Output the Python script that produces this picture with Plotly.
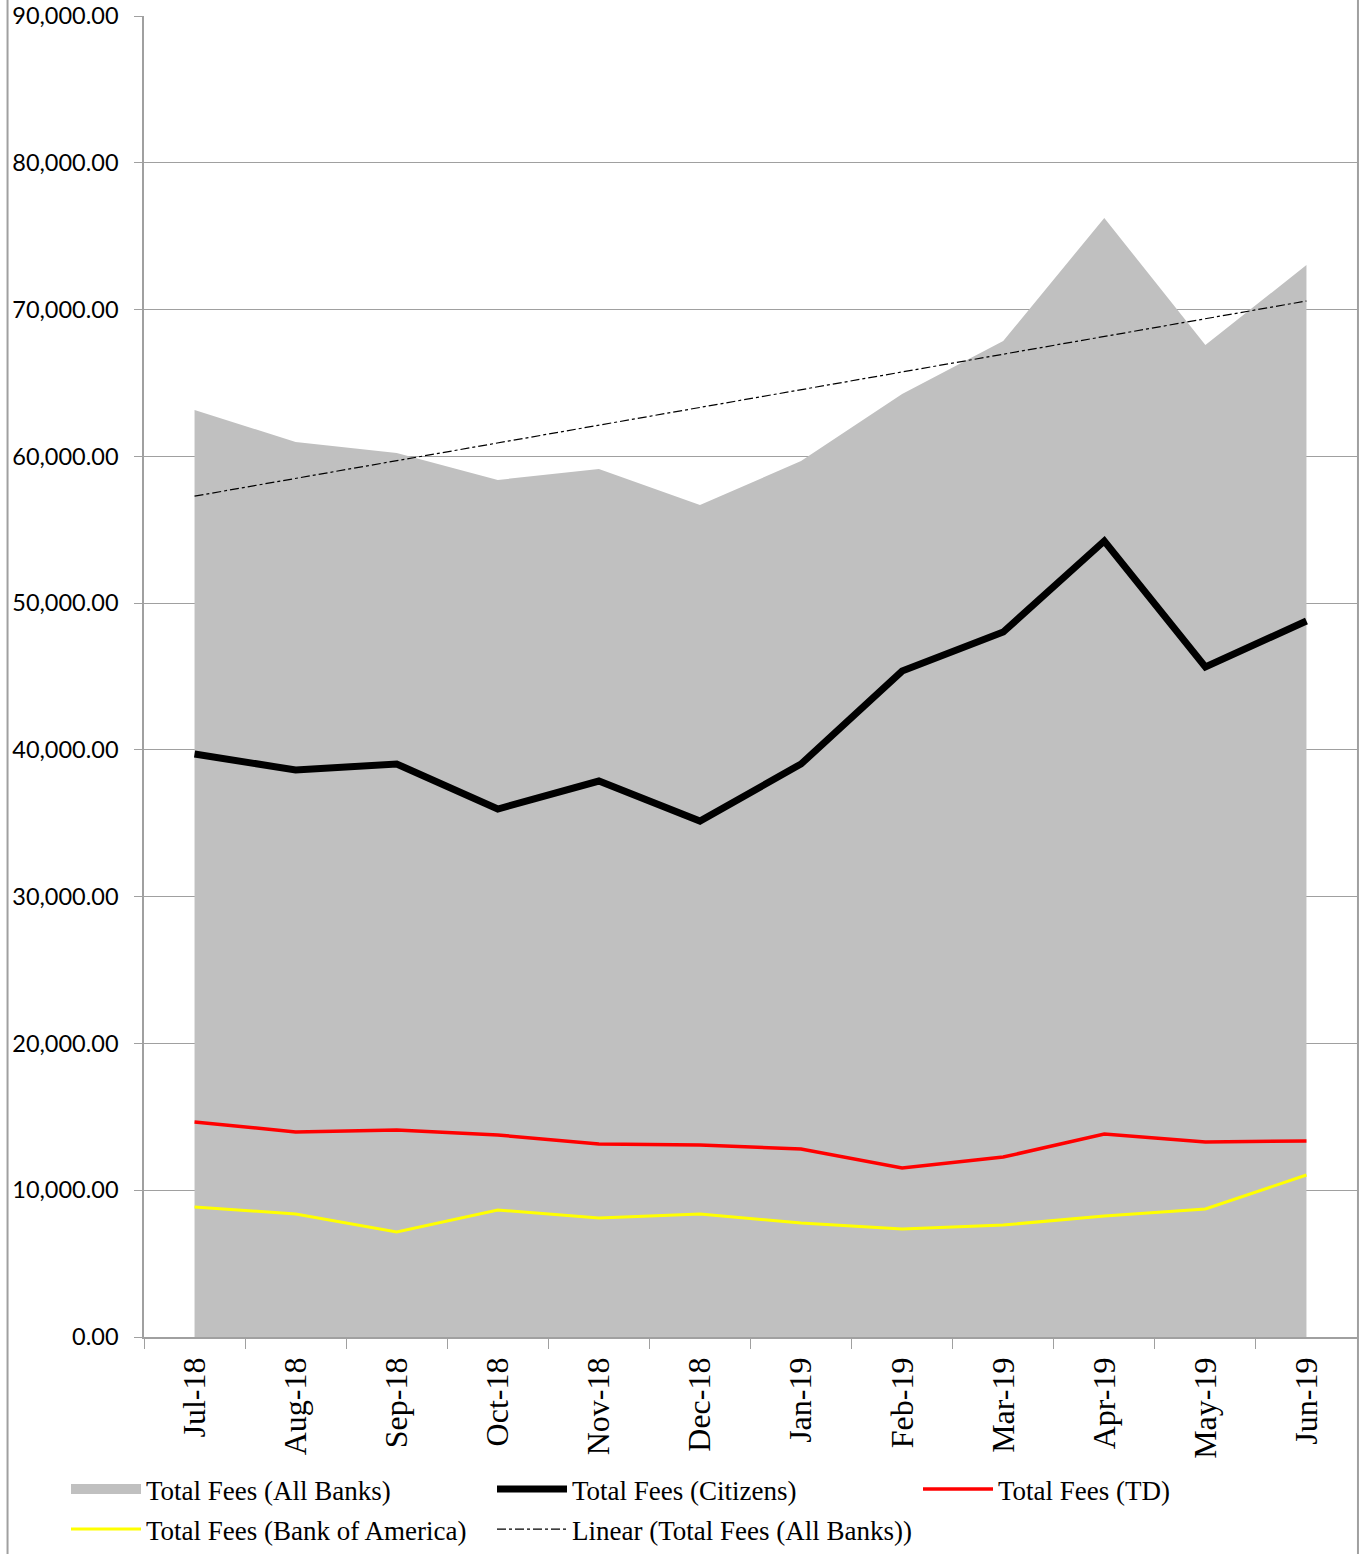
import numpy as np
import plotly.graph_objects as go

months = ["Jul-18", "Aug-18", "Sep-18", "Oct-18", "Nov-18", "Dec-18",
          "Jan-19", "Feb-19", "Mar-19", "Apr-19", "May-19", "Jun-19"]
all_banks = [63160, 60980, 60230, 58390, 59140, 56680, 59680, 64250, 67860, 76240, 67580, 73030]
citizens = [39720, 38630, 39040, 35970, 37880, 35150, 39040, 45370, 48030, 54230, 45650, 48780]
td = [14650, 13970, 14100, 13760, 13150, 13080, 12810, 11510, 12260, 13830, 13290, 13350]
boa = [8860, 8380, 7150, 8650, 8110, 8380, 7770, 7360, 7630, 8240, 8720, 11040]
y_ticks = [0, 10000, 20000, 30000, 40000, 50000, 60000, 70000, 80000, 90000]

# linear trendline (least squares) of All Banks
xi = np.arange(len(all_banks))
slope, intercept = np.polyfit(xi, np.array(all_banks, dtype=float), 1)
trend = (slope * xi + intercept).tolist()

GRID = "#a0a0a0"
AREA = "#c0c0c0"
fig = go.Figure()
fig.add_trace(go.Scatter(x=months, y=all_banks, name="Total Fees (All Banks)",
                         mode="lines", fill="tozeroy", fillcolor=AREA,
                         line=dict(width=0, color=AREA), showlegend=False,
                         legendgroup="all"))
# legend entry for the area (filled block swatch)
fig.add_trace(go.Scatter(x=[None], y=[None], name="Total Fees (All Banks)",
                         mode="lines", line=dict(color=AREA, width=15),
                         legendgroup="all", legend="legend"))
fig.add_trace(go.Scatter(x=months, y=citizens, name="Total Fees (Citizens)",
                         mode="lines", line=dict(color="black", width=7),
                         legend="legend2"))
fig.add_trace(go.Scatter(x=months, y=td, name="Total Fees (TD)",
                         mode="lines", line=dict(color="#ff0000", width=3.5),
                         legend="legend3"))
fig.add_trace(go.Scatter(x=months, y=boa, name="Total Fees (Bank of America)",
                         mode="lines", line=dict(color="#ffff00", width=3),
                         legend="legend4"))
fig.add_trace(go.Scatter(x=months, y=trend, name="Linear (Total Fees (All Banks))",
                         mode="lines", line=dict(color="black", width=1.2, dash="dashdot"),
                         legend="legend5"))

LEGFONT = dict(family="Liberation Serif", size=27, color="black")


def leg(xpx, ytop):
    return dict(orientation="h", xref="container", yref="container",
                x=xpx / 1365, y=1 - ytop / 1554, xanchor="left", yanchor="top",
                font=LEGFONT, itemwidth=70, bgcolor="rgba(0,0,0,0)")


fig.update_layout(
    width=1365, height=1554,
    margin=dict(l=144, r=8, t=16, b=217, autoexpand=False),
    paper_bgcolor="white", plot_bgcolor="white",
    showlegend=True,
    legend=leg(66, 1465),
    legend2=leg(492, 1465),
    legend3=leg(918, 1465),
    legend4=leg(66, 1505),
    legend5=leg(492, 1505),
    xaxis=dict(type="category", range=[-0.5, 11.5], tickson="boundaries",
               ticks="outside", ticklen=10, tickcolor=GRID, showline=True,
               linecolor=GRID, linewidth=1.5, showgrid=False, tickangle=-90,
               ticklabelstandoff=6,
               tickfont=dict(family="Liberation Serif", size=32, color="black")),
    yaxis=dict(range=[0, 90000], tickvals=y_ticks,
               ticktext=[f"{v:,.2f}" for v in y_ticks],
               ticks="outside", ticklen=8, tickcolor=GRID, showline=True,
               linecolor=GRID, linewidth=1.5, showgrid=True, gridcolor=GRID,
               gridwidth=1.2, zeroline=False, ticklabelstandoff=11,
               tickfont=dict(family="Lato", size=23.5, color="black")),
    shapes=[
        dict(type="line", xref="paper", yref="paper", x0=-0.1125, x1=-0.1125,
             y0=-1, y1=2, line=dict(color=GRID, width=2)),
        dict(type="line", xref="paper", yref="paper", x0=1.0008, x1=1.0008,
             y0=-1, y1=2, line=dict(color=GRID, width=2)),
    ],
)

fig.write_html("out.html")
